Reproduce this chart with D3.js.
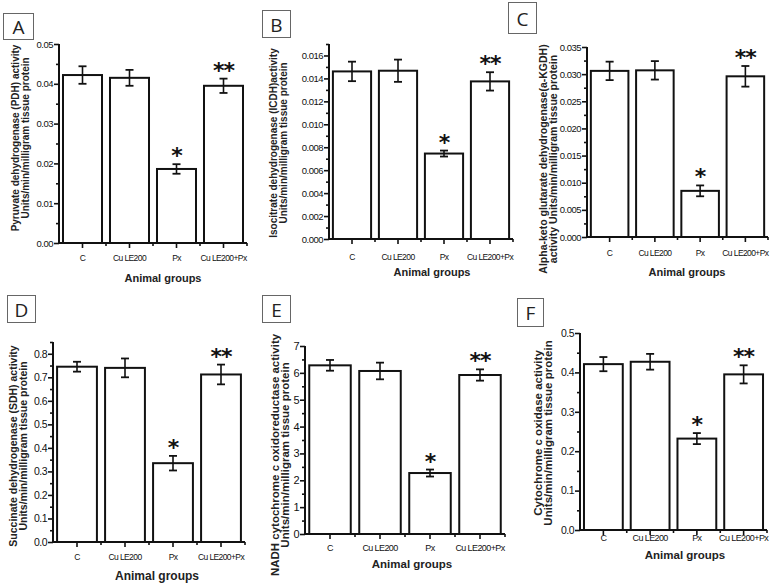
<!DOCTYPE html>
<html lang="en">
<head>
<meta charset="UTF-8">
<title>Enzyme activities by animal group</title>
<script src="https://d3js.org/d3.v7.min.js"></script>
<style>
    body { margin: 0; background: #fff; }
    .tick-label { font-family: "Liberation Sans", Arial, sans-serif; fill: #111; letter-spacing: -0.5px; }
    .x-label { font-family: "Liberation Sans", Arial, sans-serif; fill: #111; letter-spacing: -0.6px; }
    .y-title, .x-title { font-family: "Liberation Sans", Arial, sans-serif; font-weight: bold; fill: #222; }
    .star { font-family: "DejaVu Sans", sans-serif; font-weight: bold; fill: #111; }
    .panel-letter { font-family: "Open Sans", "Liberation Sans", sans-serif; fill: #222; }
</style>
</head>
<body>
<script>
    const categories = ["C", "Cu LE200", "Px", "Cu LE200+Px"];
    const marks = ["", "", "*", "**"];

    const pdhMean = [0.0422, 0.0415, 0.0186, 0.0395];
    const pdhSem = [0.0022, 0.0020, 0.0012, 0.0018];

    const icdhMean = [0.01461, 0.01467, 0.00745, 0.01374];
    const icdhSem = [0.00085, 0.00097, 0.00026, 0.00080];

    const kgdhMean = [0.0306, 0.0307, 0.0085, 0.0296];
    const kgdhSem = [0.0017, 0.0017, 0.0010, 0.0019];

    const sdhMean = [0.745, 0.740, 0.335, 0.712];
    const sdhSem = [0.021, 0.040, 0.031, 0.042];

    const nadhMean = [6.28, 6.07, 2.27, 5.92];
    const nadhSem = [0.20, 0.31, 0.13, 0.21];

    const coxMean = [0.421, 0.427, 0.232, 0.395];
    const coxSem = [0.018, 0.020, 0.014, 0.023];

    const svg = d3.select("body").append("svg")
        .attr("width", 770)
        .attr("height", 586);

    // panel layout
    const panels = [
        {letter: "A", box: [3, 13, 30, 26], mean: pdhMean, sem: pdhSem,
         x0: 59, x1: 247, y0: 243, y1: 44, max: 0.05, step: 0.01, fmt: ".2f", tickSize: 9.5,
         title: ["Pyruvate dehydrogenase (PDH) activity", "Units/min/milligram tissue protein"],
         titleX: 15, titleY: 138, titleSize: 10, labelY: 258, labelSize: 8.5, groupX: 163, groupY: 278, groupSize: 11},
        {letter: "B", box: [262, 10, 28, 27], mean: icdhMean, sem: icdhSem,
         x0: 329, x1: 513, y0: 239, y1: 44, max: 0.017, step: 0.002, fmt: ".3f", tickSize: 9.5,
         title: ["Isocitrate dehydrogenase (ICDH)activity", "Units/min/milligram tissue protein"],
         titleX: 273, titleY: 143, titleSize: 10, labelY: 257, labelSize: 8.5, groupX: 432, groupY: 272, groupSize: 11},
        {letter: "C", box: [508, 2, 28, 31], mean: kgdhMean, sem: kgdhSem,
         x0: 587, x1: 768, y0: 237, y1: 47, max: 0.035, step: 0.005, fmt: ".3f", tickSize: 9.5,
         title: ["Alpha-keto glutarate dehydrogenase(a-KGDH)", "activity Units/min/milligram tissue protein"],
         titleX: 543, titleY: 159, titleSize: 10.5, labelY: 253, labelSize: 8.5, groupX: 687, groupY: 272, groupSize: 11},
        {letter: "D", box: [7, 295, 28, 27], mean: sdhMean, sem: sdhSem,
         x0: 53, x1: 245, y0: 542, y1: 342, max: 0.85, step: 0.1, fmt: ".1f", tickSize: 10.5,
         title: ["Succinate dehydrogenase (SDH) activity", "Units/min/milligram tissue protein"],
         titleX: 13, titleY: 446, titleSize: 10.5, labelY: 557, labelSize: 8.5, groupX: 157, groupY: 576, groupSize: 12},
        {letter: "E", box: [262, 295, 28, 27], mean: nadhMean, sem: nadhSem,
         x0: 305, x1: 505, y0: 534, y1: 346, max: 7, step: 1, fmt: "d", tickSize: 11,
         title: ["NADH cytochrome c oxidoreductase activity", "Units/min/milligram tissue protein"],
         titleX: 275, titleY: 455, titleSize: 11.5, labelY: 548, labelSize: 9, groupX: 412, groupY: 564, groupSize: 11.5},
        {letter: "F", box: [517, 298, 26, 28], mean: coxMean, sem: coxSem,
         x0: 580, x1: 767, y0: 530, y1: 333, max: 0.5, step: 0.1, fmt: ".1f", tickSize: 10.5,
         title: ["Cytochrome c oxidase activity", "Units/min/milligram tissue protein"],
         titleX: 538, titleY: 433, titleSize: 11.5, labelY: 538, labelSize: 9, groupX: 685, groupY: 555, groupSize: 11.5}
    ];

    function drawPanel(p) {
        const g = svg.append("g");

        // panel letter in a box
        g.append("rect")
            .attr("x", p.box[0] + 0.5).attr("y", p.box[1] + 0.5)
            .attr("width", p.box[2]).attr("height", p.box[3])
            .attr("fill", "none").attr("stroke", "#666").attr("stroke-width", 1);
        g.append("text")
            .attr("class", "panel-letter")
            .attr("x", p.box[0] + p.box[2] / 2 + 0.5)
            .attr("y", p.box[1] + p.box[3] / 2 + 1)
            .attr("text-anchor", "middle")
            .attr("dominant-baseline", "central")
            .attr("font-size", 19)
            .text(p.letter);

        const x = d3.scaleBand().domain(categories).range([p.x0, p.x1]).padding(0);
        const y = d3.scaleLinear().domain([0, p.max]).range([p.y0, p.y1]);
        const barW = x.bandwidth() * 0.83;

        const rows = categories.map((c, i) => ({cat: c, mean: p.mean[i], sem: p.sem[i], mark: marks[i]}));

        // bars
        g.selectAll(null).data(rows).enter().append("rect")
            .attr("x", d => x(d.cat) + (x.bandwidth() - barW) / 2)
            .attr("y", d => y(d.mean))
            .attr("width", barW)
            .attr("height", d => y(0) - y(d.mean))
            .attr("fill", "#fff")
            .attr("stroke", "#111")
            .attr("stroke-width", 2);

        // error bars
        const cx = d => x(d.cat) + x.bandwidth() / 2;
        g.selectAll(null).data(rows).enter().append("line")
            .attr("x1", cx).attr("x2", cx)
            .attr("y1", d => y(d.mean + d.sem)).attr("y2", d => y(d.mean - d.sem))
            .attr("stroke", "#111").attr("stroke-width", 1.6);
        [1, -1].forEach(s => {
            g.selectAll(null).data(rows).enter().append("line")
                .attr("x1", d => cx(d) - 4).attr("x2", d => cx(d) + 4)
                .attr("y1", d => y(d.mean + s * d.sem))
                .attr("y2", d => y(d.mean + s * d.sem))
                .attr("stroke", "#111").attr("stroke-width", 1.8);
        });

        // significance marks
        g.selectAll(null).data(rows.filter(d => d.mark)).enter().append("text")
            .attr("class", "star")
            .attr("x", cx)
            .attr("y", d => y(d.mean + d.sem) - 13 + 12)
            .attr("text-anchor", "middle")
            .attr("font-size", 22)
            .attr("letter-spacing", -1)
            .text(d => d.mark);

        // y axis with major and minor ticks
        const major = d3.range(0, p.max + p.step / 1000, p.step);
        const minor = d3.range(p.step / 2, p.max + p.step / 1000, p.step);
        const yAxis = g.append("g").attr("transform", `translate(${p.x0},0)`);
        yAxis.call(d3.axisLeft(y).tickValues(major).tickFormat(d3.format(p.fmt)).tickSize(5).tickPadding(1));
        yAxis.append("g").call(d3.axisLeft(y).tickValues(minor).tickFormat("").tickSize(3));
        yAxis.selectAll(".domain").remove();
        yAxis.selectAll("line").attr("stroke", "#111").attr("stroke-width", 1.6);
        yAxis.selectAll("text").attr("class", "tick-label").attr("font-size", p.tickSize).attr("fill", "#111");
        g.append("line")
            .attr("x1", p.x0).attr("x2", p.x0)
            .attr("y1", y(0) + 1).attr("y2", y(p.max))
            .attr("stroke", "#111").attr("stroke-width", 2);

        // x axis: ticks at group centres and small ticks at group boundaries
        const xAxis = g.append("g").attr("transform", `translate(0,${p.y0})`);
        xAxis.call(d3.axisBottom(x).tickSize(5).tickPadding(4));
        xAxis.selectAll(".domain").remove();
        xAxis.selectAll("line").attr("stroke", "#111").attr("stroke-width", 1.6);
        xAxis.selectAll("text").attr("class", "x-label").attr("font-size", p.labelSize)
            .attr("y", p.labelY - p.y0).attr("dy", "0.35em");
        xAxis.selectAll(null).data(categories.slice(1).map(c => x(c)).concat([p.x1]))
            .enter().append("line")
            .attr("x1", d => d).attr("x2", d => d)
            .attr("y1", 0).attr("y2", 3)
            .attr("stroke", "#111").attr("stroke-width", 1.6);
        g.append("line")
            .attr("x1", p.x0 - 1).attr("x2", p.x1)
            .attr("y1", p.y0).attr("y2", p.y0)
            .attr("stroke", "#111").attr("stroke-width", 2);

        // axis titles
        p.title.forEach((t, i) => {
            g.append("text")
                .attr("class", "y-title")
                .attr("transform", `translate(${p.titleX + i * 10},${p.titleY}) rotate(-90)`)
                .attr("text-anchor", "middle")
                .attr("dominant-baseline", "central")
                .attr("font-size", p.titleSize)
                .text(t);
        });
        g.append("text")
            .attr("class", "x-title")
            .attr("x", p.groupX).attr("y", p.groupY)
            .attr("text-anchor", "middle")
            .attr("dominant-baseline", "central")
            .attr("font-size", p.groupSize)
            .text("Animal groups");
    }

    panels.forEach(drawPanel);
</script>
</body>
</html>
